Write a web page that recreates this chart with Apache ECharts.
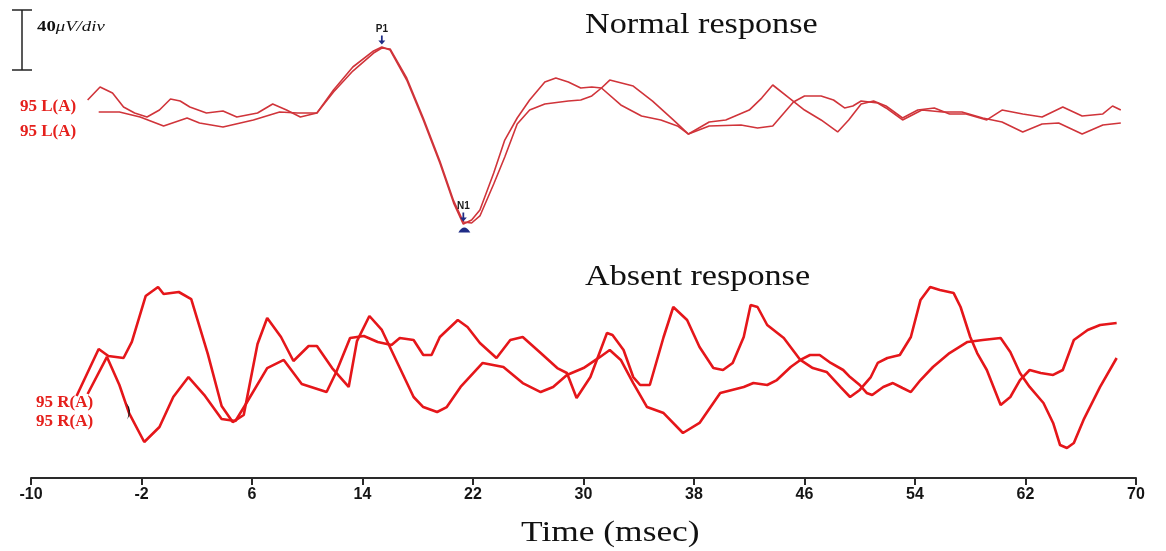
<!DOCTYPE html>
<html>
<head>
<meta charset="utf-8">
<script src="https://cdn.jsdelivr.net/npm/echarts@6/dist/echarts.min.js"></script>
<style>
html,body{margin:0;padding:0;background:#ffffff;}
#c{width:1166px;height:551px;}
</style>
</head>
<body>
<div id="c"></div>
<script>
// ---- tick labels (ms) ----
const xTicks = [-10, -2, 6, 14, 22, 30, 38, 46, 54, 62, 70];

// ---- Normal response, 95 L(A), trace 1 (time ms / amplitude µV) ----
const normalTimeA = [-5.9,-5.0,-4.1,-3.3,-2.5,-1.6,-0.7,0.1,0.8,1.5,2.7,3.9,4.9,6.4,7.5,8.5,9.5,10.7,11.9,13.3,14.8,15.4,16.0,17.2,18.4,19.6,20.6,21.3,21.9,22.5,23.5,24.3,25.2,26.1,27.2,28.0,28.9,29.8,30.6,31.3,32.7,34.2,35.6,36.8,37.6,39.1,41.4,42.6,43.7,45.2,46.0,47.2,48.1,48.9,49.5,50.1,51.3,51.9,53.1,54.5,56.0,57.4,58.9,60.3,61.8,63.2,64.4,66.1,67.6,68.9];
const normalAmpA  = [8,16.7,12.7,3.3,-0.7,-3.3,1.3,8.7,7.3,3.3,-0.7,0.7,-3.3,-0.7,5.3,1.3,-3.3,-0.7,14.7,30,40.7,43.3,41.3,21.3,-5.3,-34,-60.7,-74.7,-72,-65.3,-40.7,-18.7,-4,8,20,22.7,20,16,16.7,16,4.7,-2.7,-5.3,-9.3,-14.7,-9.3,-8.7,-10.7,-9.3,6.7,10.7,10.7,8,2.7,4,7.3,6,2.7,-5.3,1.3,0,0,-4,-6.7,-13.3,-8,-7.3,-14.7,-8.7,-7.3];

// ---- Normal response, 95 L(A), trace 2 ----
const normalTimeB = [-5.1,-3.6,-2.1,-0.4,1.3,2.2,3.9,6.1,8.0,9.3,10.7,11.9,13.3,14.8,15.4,16.0,17.2,18.4,19.6,20.6,21.3,21.9,22.5,23.5,24.3,25.2,26.1,27.2,28.9,29.8,30.6,31.3,31.9,33.6,35.0,36.5,37.6,39.1,40.3,42.0,42.9,43.7,44.9,46.0,47.2,48.4,49.2,50.1,51.0,51.9,53.1,54.2,55.4,56.5,57.7,59.2,60.3,61.8,63.2,64.7,66.1,67.6,68.3,68.9];
const normalAmpB  = [0,0,-3.3,-9.3,-4,-7.3,-10,-5.3,0,-0.7,-0.7,13.3,27.3,39.3,42.7,42,22.7,-4,-32.7,-59.3,-73.3,-74,-69.3,-48,-30,-8,1.3,5.3,7.3,8,10.7,16,21.3,17.3,7.3,-5.3,-14.7,-6.7,-5.3,1.3,9.3,18,9.3,1.3,-5.3,-13.3,-5.3,5.3,7.3,4,-4,1.3,2.7,-1.3,-1.3,-5.3,1.3,-1.3,-3.3,3.3,-2.7,-1.3,4,1.3];

// ---- Absent response, 95 R(A), trace 1 ----
const absentTimeA = [-6.7,-5.1,-4.4,-3.3,-2.7,-1.7,-0.8,-0.4,0.7,1.6,2.8,3.8,4.6,5.4,6.4,7.1,8.1,9.0,10.1,10.7,11.8,13.0,13.6,14.5,15.4,16.6,17.7,18.4,19.4,20.1,21.1,22.7,24.2,25.6,26.9,27.8,28.8,30.0,31.2,31.9,32.7,33.6,34.6,35.8,37.2,38.4,39.9,41.6,42.3,43.3,44.0,45.0,45.7,46.4,47.1,47.9,48.8,49.3,50.0,50.5,50.9,51.7,52.4,53.1,53.7,54.4,55.3,56.5,57.8,58.9,60.2,60.9,61.6,62.3,63.3,64.0,64.5,65.0,65.5,66.2,67.4,68.6];
const absentAmpA  = [-15.3,16,11.3,10,20.7,51.3,57.3,52.7,54,49.3,12.7,-22,-32.7,-28,19.3,36.7,24,8,18,18,3.3,-9.3,21.3,38,28.7,5.3,-16,-22.7,-26,-22.7,-9.3,6.7,4,-6.7,-12.7,-9.3,-1.3,3.3,10.7,15.3,8.7,-6.7,-22.7,-26.7,-40,-33.3,-13.3,-9.3,-6.7,-8,-4.7,4,8.7,12,12,6.7,2,-2.7,-8,-13.3,-14.7,-9.3,-6.7,-10,-12.7,-4.7,4,13.3,20.7,22,23.3,14,0,-9.3,-20,-33.3,-48,-50,-46.7,-31.3,-9.3,10];

// ---- Absent response, 95 R(A), trace 2 ----
const absentTimeB = [-5.9,-4.5,-3.6,-2.9,-1.8,-0.7,0.3,1.4,2.6,3.8,4.8,5.6,7.1,8.3,9.6,11.4,12.1,13.1,14.1,15.1,16.1,16.7,17.7,18.4,19.0,19.6,20.9,21.6,22.5,23.7,24.7,25.6,26.9,28.1,28.8,29.5,30.5,31.7,32.1,32.9,33.6,34.1,34.8,35.8,36.5,37.5,38.4,39.4,40.1,40.8,41.6,42.1,42.6,43.3,44.5,45.7,46.6,47.6,48.6,49.3,50.0,50.8,51.3,52.0,52.9,53.7,54.4,55.1,55.8,56.8,57.3,58.0,58.5,59.2,60.2,60.9,61.6,62.3,63.1,64.0,64.7,65.5,66.5,67.4,68.6];
const absentAmpB  = [-14,10.7,-8,-26.7,-46,-36,-16,-2.7,-15.3,-30.7,-32,-20,3.3,8.7,-7.3,-12.7,0.7,23.3,24.7,20.7,18.7,23.3,22,12,12,24,35.3,30.7,20,10,22,24,13.3,3.3,0,-16.7,-2.7,26.7,25.3,15.3,-2.7,-8,-8,24,44,35.3,17.3,3.3,2,6.7,24,45.3,44,32,23.3,8.7,3.3,0.7,-9.3,-16,-11.3,-2.7,6.7,10,12,24,48.7,57.3,55.3,53.3,44,24,13.3,2,-21.3,-16,-4.7,2,0,-1.3,2,22,28.7,32,33.3];

// ---- peak markers (ms, µV) ----
const peakP1 = [15.4, 43.3];
const peakN1 = [21.3, -74.7];
const scaleBarUV = 40;

const pairs = (t, a) => t.map((v, i) => [v, a[i]]);
const normColor = '#d0343a';
const absColor = '#e5161a';
const markBlue = '#1f2c86';
const arrowPath = 'path://M3,0 L5,0 L5,6 L8,6 L4,11 L0,6 L3,6 Z';
const domePath = 'path://M0,7 Q6,-2 12,7 Z';
const tickPath = 'path://M0,0 Q6,8 1,16 Q3.5,8 0,0 Z';

const chart = echarts.init(document.getElementById('c'), null, {renderer: 'canvas'});

const option = {
  animation: false,
  backgroundColor: '#ffffff',
  grid: [
    {left: 31, right: 30, top: 7, height: 240},
    {left: 31, right: 30, top: 268, height: 210}
  ],
  xAxis: [
    {gridIndex: 0, type: 'value', min: xTicks[0], max: xTicks[xTicks.length - 1], show: false},
    {
      gridIndex: 1, type: 'value', min: xTicks[0], max: xTicks[xTicks.length - 1],
      interval: xTicks[1] - xTicks[0],
      axisLine: {show: true, onZero: false, lineStyle: {color: '#2a2a2a', width: 2}},
      axisTick: {show: true, length: 7, lineStyle: {color: '#2a2a2a', width: 2}},
      axisLabel: {color: '#151515', fontFamily: '"Liberation Sans", Arial, sans-serif', fontWeight: 'bold', fontSize: 16, margin: 9},
      splitLine: {show: false}
    }
  ],
  yAxis: [
    {gridIndex: 0, type: 'value', min: -90, max: 70, show: false},
    {gridIndex: 1, type: 'value', min: -70, max: 70, show: false}
  ],
  series: [
    {
      name: '95 L(A) a', type: 'line', xAxisIndex: 0, yAxisIndex: 0, showSymbol: false,
      data: pairs(normalTimeA, normalAmpA), lineStyle: {color: normColor, width: 1.6}, itemStyle: {color: normColor},
      markPoint: {
        silent: true,
        data: [
          {coord: peakP1, symbol: arrowPath, symbolSize: [7, 9], symbolOffset: [0, -7],
            itemStyle: {color: markBlue},
            label: {show: true, position: 'top', distance: 1, formatter: 'P1', color: '#1a1a1a', fontSize: 10, fontWeight: 'bold', fontFamily: '"Liberation Sans", Arial'}},
          {coord: peakN1, symbol: arrowPath, symbolSize: [7, 9], symbolOffset: [0, -7],
            itemStyle: {color: markBlue},
            label: {show: true, position: 'top', distance: 1, formatter: 'N1', color: '#1a1a1a', fontSize: 10, fontWeight: 'bold', fontFamily: '"Liberation Sans", Arial'}},
          {coord: peakN1, symbol: domePath, symbolSize: [12, 5], symbolOffset: [1, 6],
            itemStyle: {color: markBlue}, label: {show: false}}
        ]
      }
    },
    {
      name: '95 L(A) b', type: 'line', xAxisIndex: 0, yAxisIndex: 0, showSymbol: false,
      data: pairs(normalTimeB, normalAmpB), lineStyle: {color: normColor, width: 1.6}, itemStyle: {color: normColor}
    },
    {
      name: '95 R(A) a', type: 'line', xAxisIndex: 1, yAxisIndex: 1, showSymbol: false,
      data: pairs(absentTimeA, absentAmpA), lineStyle: {color: absColor, width: 2.6}, itemStyle: {color: absColor}
    },
    {
      name: '95 R(A) b', type: 'line', xAxisIndex: 1, yAxisIndex: 1, showSymbol: false,
      data: pairs(absentTimeB, absentAmpB), lineStyle: {color: absColor, width: 2.6}, itemStyle: {color: absColor},
      markPoint: {
        silent: true,
        data: [
          {coord: [absentTimeB[3], absentAmpB[3]], symbol: tickPath, symbolSize: [4, 17], symbolOffset: [-1, -2],
            itemStyle: {color: '#111111'}, label: {show: false}}
        ]
      }
    }
  ]
};
chart.setOption(option);

// scale bar length from the top y axis (40 µV)
const y0 = chart.convertToPixel({yAxisIndex: 0}, 0);
const y40 = chart.convertToPixel({yAxisIndex: 0}, scaleBarUV);
const barLen = Math.abs(y0 - y40);
const barTop = 10;
const barX = 22;

chart.setOption({
  graphic: [
    {type: 'line', shape: {x1: barX, y1: barTop, x2: barX, y2: barTop + barLen}, style: {stroke: '#222', lineWidth: 1.5}},
    {type: 'line', shape: {x1: barX - 10, y1: barTop, x2: barX + 10, y2: barTop}, style: {stroke: '#222', lineWidth: 1.5}},
    {type: 'line', shape: {x1: barX - 10, y1: barTop + barLen, x2: barX + 10, y2: barTop + barLen}, style: {stroke: '#222', lineWidth: 1.5}},
    {type: 'text', x: 37, y: 27, scaleX: 1.25, style: {
      text: '{b|40}{i|\u03bcV/div}', verticalAlign: 'middle',
      rich: {
        b: {font: 'bold 15px "Liberation Serif", serif', fill: '#111'},
        i: {font: 'italic 15px "Liberation Serif", serif', fill: '#111'}
      }}},
    {type: 'text', x: 585, y: 25, scaleX: 1.14, style: {text: 'Normal response', font: '30px "Liberation Serif", serif', fill: '#111', verticalAlign: 'middle'}},
    {type: 'text', x: 585, y: 277, scaleX: 1.14, style: {text: 'Absent response', font: '30px "Liberation Serif", serif', fill: '#111', verticalAlign: 'middle'}},
    {type: 'text', x: 521, y: 533, scaleX: 1.18, style: {text: 'Time (msec)', font: '30px "Liberation Serif", serif', fill: '#111', verticalAlign: 'middle'}},
    {type: 'text', x: 20, y: 107, style: {text: '95 L(A)', font: 'bold 17px "Liberation Serif", serif', fill: '#e5201c', verticalAlign: 'middle'}},
    {type: 'text', x: 20, y: 132, style: {text: '95 L(A)', font: 'bold 17px "Liberation Serif", serif', fill: '#e5201c', verticalAlign: 'middle'}},
    {type: 'text', x: 36, y: 403, style: {text: '95 R(A)', font: 'bold 17px "Liberation Serif", serif', fill: '#e5201c', verticalAlign: 'middle'}},
    {type: 'text', x: 36, y: 422, style: {text: '95 R(A)', font: 'bold 17px "Liberation Serif", serif', fill: '#e5201c', verticalAlign: 'middle'}}
  ]
});
</script>
</body>
</html>
